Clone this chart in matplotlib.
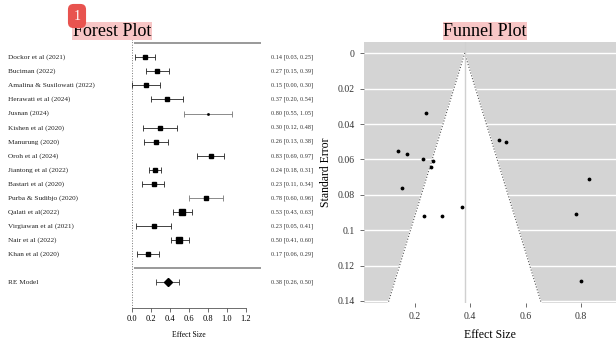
import matplotlib
matplotlib.use('Agg')
import matplotlib.pyplot as plt
import numpy as np

plt.rcParams['font.family'] = ['Liberation Serif', 'DejaVu Serif']

# forest plot data
studies = ['Dockor et al (2021)', 'Buciman (2022)', 'Amalina & Susilowati (2022)',
           'Herawati et al (2024)', 'Jusnan (2024)', 'Kishen et al (2020)',
           'Manurung (2020)', 'Oroh et al (2024)', 'Jiantong et al (2022)',
           'Bastari et al (2020)', 'Purba & Sudibjo (2020)', 'Qalati et al(2022)',
           'Virgiawan et al (2021)', 'Nair et al (2022)', 'Khan et al (2020)']
effect = [0.14, 0.27, 0.15, 0.37, 0.80, 0.30, 0.26, 0.83, 0.24, 0.23, 0.78, 0.53, 0.23, 0.50, 0.17]
ci_lo = [0.03, 0.15, 0.00, 0.20, 0.55, 0.12, 0.13, 0.69, 0.18, 0.11, 0.60, 0.43, 0.05, 0.41, 0.06]
ci_hi = [0.25, 0.39, 0.30, 0.54, 1.05, 0.48, 0.38, 0.97, 0.31, 0.34, 0.96, 0.63, 0.41, 0.60, 0.29]
weights = [7.2, 7.0, 6.6, 6.6, 2.0, 6.4, 6.6, 7.8, 7.6, 7.4, 5.4, 8.2, 6.4, 8.4, 7.2]
re_est, re_lo, re_hi = 0.38, 0.26, 0.50

# funnel plot data
funnel_x = [0.241, 0.140, 0.172, 0.228, 0.266, 0.257, 0.504, 0.528, 0.831,
            0.152, 0.371, 0.234, 0.298, 0.784, 0.800]
funnel_se = [0.034, 0.055, 0.057, 0.060, 0.061, 0.064, 0.049, 0.050, 0.071,
             0.076, 0.087, 0.092, 0.092, 0.091, 0.129]

fig = plt.figure(figsize=(6.16, 3.43), dpi=100)

# ---- forest plot ----
ax1 = fig.add_axes([0, 0, 320 / 616, 313 / 343])
ax1.set_xlim(-1.383, 1.978)
ax1.set_ylim(-3.31, 18.94)
for s in ['top', 'right', 'left']:
    ax1.spines[s].set_visible(False)
ax1.spines['bottom'].set_position(('data', -0.8))
ax1.spines['bottom'].set_bounds(0, 1.2)
ax1.spines['bottom'].set_color('#555555')
ax1.spines['bottom'].set_linewidth(0.6)
ax1.set_xticks(np.arange(0, 1.21, 0.2))
ax1.set_xticklabels(['%.1f' % t for t in np.arange(0, 1.21, 0.2)])
ax1.tick_params(axis='x', labelsize=6, length=3, width=0.6, color='#555555', pad=2)
ax1.set_yticks([])

k = len(studies)
rows = np.arange(k, 0, -1) + 2
ax1.vlines(0, -0.8, 18.3, colors='#777777', linestyles=':', lw=0.7)
ax1.hlines([18, 2], 0.02, 1.36, colors='#888888', lw=1.2)

for i in range(k):
    col = '#777777' if weights[i] < 6 else '#222222'
    ax1.errorbar(effect[i], rows[i], xerr=[[effect[i] - ci_lo[i]], [ci_hi[i] - effect[i]]],
                 fmt='s', color='black', ecolor=col, elinewidth=0.6, capsize=2.4,
                 capthick=0.6, markersize=weights[i] * 0.45)
    ax1.text(-1.30, rows[i], studies[i], fontsize=5.2, ha='left', va='center', color='#222222')
    ax1.text(1.46, rows[i], '%.2f [%.2f, %.2f]' % (effect[i], ci_lo[i], ci_hi[i]),
             fontsize=4.5, ha='left', va='center', color='#333333')

ax1.errorbar(re_est, 1, xerr=[[re_est - re_lo], [re_hi - re_est]], fmt='D', color='black',
             ecolor='#333333', elinewidth=0.6, capsize=2.4, capthick=0.6, markersize=4.5)
ax1.text(-1.30, 1, 'RE Model', fontsize=5.2, ha='left', va='center', color='#222222')
ax1.text(1.46, 1, '%.2f [%.2f, %.2f]' % (re_est, re_lo, re_hi),
         fontsize=4.5, ha='left', va='center', color='#333333')
ax1.text(0.6, -2.75, 'Effect Size', fontsize=5.5, ha='center', va='center')

fig.text(112 / 616, 1 - 31 / 343, 'Forest Plot', fontsize=13, ha='center', va='center',
         bbox=dict(facecolor='#f8c6c6', edgecolor='none', pad=0.5))
fig.text(77 / 616, 1 - 16 / 343, '1', fontsize=10, color='white', ha='center', va='center',
         bbox=dict(boxstyle='round,pad=0.4', facecolor='#e8534f', edgecolor='none'))

# ---- funnel plot ----
ax2 = fig.add_axes([364 / 616, 40 / 343, 252 / 616, 261.3 / 343])
ax2.set_facecolor('#d4d4d4')
ax2.set_xlim(0.016, 0.927)
ax2.set_ylim(0.1412, -0.0066)
for s in ax2.spines.values():
    s.set_visible(False)
ax2.set_yticks(np.arange(0, 0.141, 0.02))
ax2.set_yticklabels(['0', '0.02', '0.04', '0.06', '0.08', '0.1', '0.12', '0.14'])
ax2.set_xticks([0.2, 0.4, 0.6, 0.8])
ax2.tick_params(labelsize=7, length=3, width=0.6, color='#555555', colors='#333333')
ax2.grid(axis='y', color='white', lw=1)
ax2.set_axisbelow(True)

se_max = 0.15
ax2.fill([re_est - 1.96 * se_max, re_est, re_est + 1.96 * se_max],
         [se_max, 0, se_max], color='white', zorder=1)
ax2.plot([re_est - 1.96 * se_max, re_est, re_est + 1.96 * se_max], [se_max, 0, se_max],
         ls=':', color='#555555', lw=0.8, zorder=2)
ax2.axvline(re_est, color='#d0d0d0', lw=1, zorder=2)
ax2.scatter(funnel_x, funnel_se, s=3, color='black', zorder=3)
ax2.set_xlabel('Effect Size', fontsize=8.5, labelpad=6)
ax2.set_ylabel('Standard Error', fontsize=8.5, labelpad=4)

fig.text(485 / 616, 1 - 31 / 343, 'Funnel Plot', fontsize=13, ha='center', va='center',
         bbox=dict(facecolor='#f8c6c6', edgecolor='none', pad=0.5))

fig.savefig('out.png', dpi=100)
